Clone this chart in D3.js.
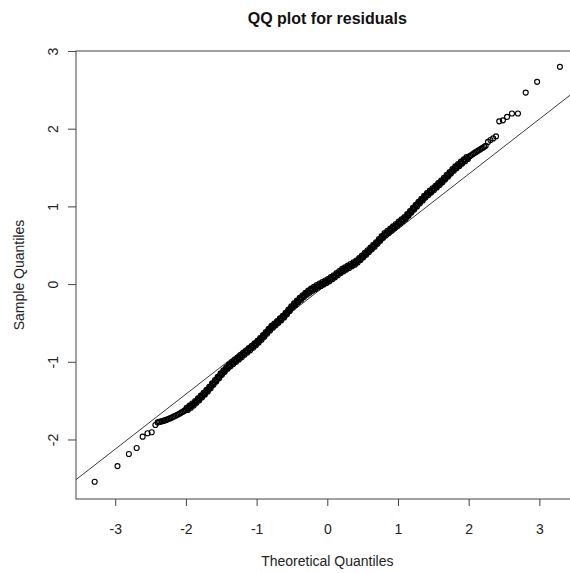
<!DOCTYPE html>
<html lang="en">
	<head>
		<meta charset="utf-8">
		<title>QQ plot for residuals</title>
		<script type="text/javascript" src="https://cdnjs.cloudflare.com/ajax/libs/d3/7.8.5/d3.min.js"></script>
		<style>
			body { margin: 0; background: #fff; }
			svg { display: block; font-family: "Liberation Sans", Arial, sans-serif; }
		</style>
	</head>
	<body>
		<script type="text/javascript">
			// theoretical quantiles (x) and residual quantiles (y)
			var theoretical = [
				-3.291, -2.968, -2.807, -2.697, -2.612, -2.543, -2.484, -2.432,
				-2.40, -2.38, -2.36, -2.34, -2.32, -2.30, -2.28, -2.26, -2.24, -2.22,
				-2.20, -2.18, -2.16, -2.14, -2.12, -2.10, -2.08, -2.06, -2.04, -2.02,
				-2.00, -1.98, -1.96, -1.94, -1.92, -1.90, -1.88, -1.86, -1.84, -1.82,
				-1.80, -1.78, -1.76, -1.74, -1.72, -1.70, -1.68, -1.66, -1.64, -1.62,
				-1.60, -1.58, -1.56, -1.54, -1.52, -1.50, -1.48, -1.46, -1.44, -1.42,
				-1.40, -1.38, -1.36, -1.34, -1.32, -1.30, -1.28, -1.26, -1.24, -1.22,
				-1.20, -1.18, -1.16, -1.14, -1.12, -1.10, -1.08, -1.06, -1.04, -1.02,
				-1.00, -0.98, -0.96, -0.94, -0.92, -0.90, -0.88, -0.86, -0.84, -0.82,
				-0.80, -0.78, -0.76, -0.74, -0.72, -0.70, -0.68, -0.66, -0.64, -0.62,
				-0.60, -0.58, -0.56, -0.54, -0.52, -0.50, -0.48, -0.46, -0.44, -0.42,
				-0.40, -0.38, -0.36, -0.34, -0.32, -0.30, -0.28, -0.26, -0.24, -0.22,
				-0.20, -0.18, -0.16, -0.14, -0.12, -0.10, -0.08, -0.06, -0.04, -0.02,
				0.00, 0.02, 0.04, 0.06, 0.08, 0.10, 0.12, 0.14, 0.16, 0.18,
				0.20, 0.22, 0.24, 0.26, 0.28, 0.30, 0.32, 0.34, 0.36, 0.38,
				0.40, 0.42, 0.44, 0.46, 0.48, 0.50, 0.52, 0.54, 0.56, 0.58,
				0.60, 0.62, 0.64, 0.66, 0.68, 0.70, 0.72, 0.74, 0.76, 0.78,
				0.80, 0.82, 0.84, 0.86, 0.88, 0.90, 0.92, 0.94, 0.96, 0.98,
				1.00, 1.02, 1.04, 1.06, 1.08, 1.10, 1.12, 1.14, 1.16, 1.18,
				1.20, 1.22, 1.24, 1.26, 1.28, 1.30, 1.32, 1.34, 1.36, 1.38,
				1.40, 1.42, 1.44, 1.46, 1.48, 1.50, 1.52, 1.54, 1.56, 1.58,
				1.60, 1.62, 1.64, 1.66, 1.68, 1.70, 1.72, 1.74, 1.76, 1.78,
				1.80, 1.82, 1.84, 1.86, 1.88, 1.90, 1.92, 1.94, 1.96, 1.98,
				2.00, 2.02, 2.04, 2.06, 2.08, 2.10, 2.12, 2.14, 2.16, 2.18,
				2.20, 2.22, 2.24,
				2.273, 2.308, 2.346, 2.387, 2.432, 2.484, 2.543, 2.612, 2.697, 2.807, 2.968, 3.291
			];
			var sample = [
				-2.544, -2.342, -2.187, -2.110, -1.964, -1.920, -1.907, -1.813,
				-1.780, -1.774, -1.771, -1.765, -1.761, -1.755, -1.748, -1.741, -1.733, -1.726,
				-1.718, -1.709, -1.700, -1.691, -1.682, -1.673, -1.662, -1.651, -1.640, -1.629,
				-1.618, -1.604, -1.591, -1.577, -1.564, -1.550, -1.533, -1.516, -1.499, -1.482,
				-1.465, -1.446, -1.428, -1.409, -1.391, -1.372, -1.351, -1.330, -1.308, -1.287,
				-1.266, -1.244, -1.223, -1.201, -1.180, -1.158, -1.138, -1.119, -1.099, -1.080,
				-1.060, -1.046, -1.031, -1.017, -1.002, -0.988, -0.973, -0.958, -0.942, -0.927,
				-0.912, -0.897, -0.882, -0.867, -0.852, -0.837, -0.822, -0.806, -0.791, -0.775,
				-0.760, -0.742, -0.723, -0.705, -0.686, -0.668, -0.647, -0.627, -0.606, -0.586,
				-0.565, -0.550, -0.534, -0.519, -0.503, -0.488, -0.470, -0.453, -0.435, -0.418,
				-0.400, -0.379, -0.358, -0.337, -0.316, -0.295, -0.277, -0.259, -0.241, -0.223,
				-0.205, -0.188, -0.172, -0.155, -0.139, -0.122, -0.110, -0.097, -0.085, -0.072,
				-0.060, -0.050, -0.039, -0.029, -0.018, -0.008, 0.002, 0.011, 0.021, 0.030,
				0.040, 0.052, 0.064, 0.076, 0.088, 0.100, 0.114, 0.128, 0.142, 0.156,
				0.170, 0.180, 0.191, 0.201, 0.212, 0.222, 0.233, 0.243, 0.254, 0.264,
				0.275, 0.291, 0.307, 0.323, 0.339, 0.355, 0.372, 0.389, 0.406, 0.423,
				0.440, 0.458, 0.475, 0.493, 0.510, 0.528, 0.548, 0.568, 0.588, 0.608,
				0.628, 0.642, 0.657, 0.671, 0.686, 0.700, 0.715, 0.730, 0.745, 0.760,
				0.775, 0.790, 0.805, 0.820, 0.835, 0.850, 0.870, 0.890, 0.910, 0.930,
				0.950, 0.970, 0.990, 1.010, 1.030, 1.050, 1.068, 1.087, 1.105, 1.124,
				1.142, 1.158, 1.174, 1.190, 1.206, 1.222, 1.238, 1.254, 1.271, 1.287,
				1.303, 1.321, 1.340, 1.358, 1.377, 1.395, 1.414, 1.432, 1.451, 1.469,
				1.488, 1.503, 1.518, 1.533, 1.548, 1.563, 1.578, 1.593, 1.608, 1.623,
				1.638, 1.650, 1.662, 1.674, 1.686, 1.698, 1.709, 1.721, 1.732, 1.744,
				1.755, 1.768, 1.780,
				1.830, 1.855, 1.875, 1.902, 2.095, 2.108, 2.152, 2.195, 2.195, 2.465, 2.603, 2.796
			];

			// the dense middle of the band: more points, spread across its width
			var theoreticalMid = [
				-1.99, -1.97, -1.95, -1.93, -1.91, -1.89, -1.87, -1.85, -1.83, -1.81,
				-1.79, -1.77, -1.75, -1.73, -1.71, -1.69, -1.67, -1.65, -1.63, -1.61,
				-1.59, -1.57, -1.55, -1.53, -1.51, -1.49, -1.47, -1.45, -1.43, -1.41,
				-1.39, -1.37, -1.35, -1.33, -1.31, -1.29, -1.27, -1.25, -1.23, -1.21,
				-1.19, -1.17, -1.15, -1.13, -1.11, -1.09, -1.07, -1.05, -1.03, -1.01,
				-0.99, -0.97, -0.95, -0.93, -0.91, -0.89, -0.87, -0.85, -0.83, -0.81,
				-0.79, -0.77, -0.75, -0.73, -0.71, -0.69, -0.67, -0.65, -0.63, -0.61,
				-0.59, -0.57, -0.55, -0.53, -0.51, -0.49, -0.47, -0.45, -0.43, -0.41,
				-0.39, -0.37, -0.35, -0.33, -0.31, -0.29, -0.27, -0.25, -0.23, -0.21,
				-0.19, -0.17, -0.15, -0.13, -0.11, -0.09, -0.07, -0.05, -0.03, -0.01,
				0.01, 0.03, 0.05, 0.07, 0.09, 0.11, 0.13, 0.15, 0.17, 0.19,
				0.21, 0.23, 0.25, 0.27, 0.29, 0.31, 0.33, 0.35, 0.37, 0.39,
				0.41, 0.43, 0.45, 0.47, 0.49, 0.51, 0.53, 0.55, 0.57, 0.59,
				0.61, 0.63, 0.65, 0.67, 0.69, 0.71, 0.73, 0.75, 0.77, 0.79,
				0.81, 0.83, 0.85, 0.87, 0.89, 0.91, 0.93, 0.95, 0.97, 0.99,
				1.01, 1.03, 1.05, 1.07, 1.09, 1.11, 1.13, 1.15, 1.17, 1.19,
				1.21, 1.23, 1.25, 1.27, 1.29, 1.31, 1.33, 1.35, 1.37, 1.39,
				1.41, 1.43, 1.45, 1.47, 1.49, 1.51, 1.53, 1.55, 1.57, 1.59,
				1.61, 1.63, 1.65, 1.67, 1.69, 1.71, 1.73, 1.75, 1.77, 1.79,
				1.81, 1.83, 1.85, 1.87, 1.89, 1.91, 1.93, 1.95, 1.97, 1.99
			];
			var sampleMid = [
				-1.591, -1.618, -1.564, -1.591, -1.537, -1.562, -1.505, -1.528, -1.471, -1.494,
				-1.436, -1.457, -1.399, -1.420, -1.362, -1.382, -1.321, -1.339, -1.278, -1.297,
				-1.235, -1.254, -1.192, -1.211, -1.149, -1.168, -1.109, -1.129, -1.070, -1.090,
				-1.033, -1.059, -1.004, -1.030, -0.975, -1.001, -0.946, -0.970, -0.915, -0.940,
				-0.885, -0.910, -0.855, -0.880, -0.825, -0.850, -0.794, -0.819, -0.763, -0.788,
				-0.731, -0.753, -0.694, -0.716, -0.657, -0.678, -0.617, -0.637, -0.576, -0.596,
				-0.538, -0.562, -0.507, -0.531, -0.476, -0.499, -0.442, -0.464, -0.407, -0.429,
				-0.370, -0.389, -0.328, -0.347, -0.286, -0.306, -0.248, -0.270, -0.212, -0.234,
				-0.177, -0.200, -0.144, -0.167, -0.111, -0.136, -0.084, -0.111, -0.059, -0.086,
				-0.035, -0.065, -0.014, -0.044, 0.007, -0.023, 0.027, -0.004, 0.046, 0.015,
				0.066, 0.038, 0.090, 0.062, 0.114, 0.087, 0.141, 0.115, 0.169, 0.143,
				0.195, 0.166, 0.216, 0.187, 0.237, 0.208, 0.258, 0.229, 0.279, 0.250,
				0.303, 0.279, 0.335, 0.311, 0.367, 0.344, 0.401, 0.378, 0.435, 0.412,
				0.469, 0.447, 0.504, 0.482, 0.539, 0.518, 0.578, 0.558, 0.618, 0.598,
				0.655, 0.630, 0.684, 0.659, 0.713, 0.688, 0.743, 0.718, 0.773, 0.748,
				0.803, 0.778, 0.833, 0.808, 0.863, 0.840, 0.900, 0.880, 0.940, 0.920,
				0.980, 0.960, 1.020, 1.000, 1.060, 1.039, 1.098, 1.076, 1.135, 1.113,
				1.170, 1.146, 1.202, 1.178, 1.234, 1.210, 1.266, 1.243, 1.299, 1.275,
				1.332, 1.311, 1.369, 1.348, 1.406, 1.385, 1.443, 1.422, 1.480, 1.459,
				1.516, 1.491, 1.546, 1.521, 1.576, 1.551, 1.606, 1.581, 1.636, 1.611
			];

			// qqline
			var lineIntercept = 0.0;
			var lineSlope = 0.708;

			var xTicks = [-3, -2, -1, 0, 1, 2, 3];
			var yTicks = [-2, -1, 0, 1, 2, 3];

			var w = 570;
			var h = 573;
			var boxLeft = 76, boxTop = 51, boxRight = 578.6, boxBottom = 499;

			var svg = d3.select("body")
					.append("svg")
					.attr("width", w)
					.attr("height", h);

			var xScale = d3.scaleLinear().domain([-3.555, 3.555]).range([boxLeft, boxRight]);
			var yScale = d3.scaleLinear().domain([-2.766, 3.0]).range([boxBottom, boxTop]);

			svg.append("defs").append("clipPath")
				.attr("id", "plotclip")
				.append("rect")
				.attr("x", boxLeft).attr("y", boxTop)
				.attr("width", boxRight - boxLeft).attr("height", boxBottom - boxTop);

			function minusLabel(d) { return d < 0 ? "-" + Math.abs(d) : d; }

			//x axis
			var xAxis = d3.axisBottom(xScale).tickValues(xTicks).tickSize(7);
			var gx = svg.append("g")
				.attr("transform", "translate(0," + boxBottom + ")")
				.call(xAxis);
			gx.select(".domain").remove();
			gx.selectAll("line").attr("stroke", "#444");
			gx.selectAll("text")
				.attr("y", 30)
				.attr("dy", "0.35em")
				.attr("fill", "#222")
				.style("font-size", "14px")
				.style("font-family", "'Liberation Sans', Arial, sans-serif")
				.text(minusLabel);

			//y axis, labels turned like R does
			var yAxis = d3.axisLeft(yScale).tickValues(yTicks).tickSize(8);
			var gy = svg.append("g")
				.attr("transform", "translate(" + boxLeft + ",0)")
				.call(yAxis);
			gy.select(".domain").remove();
			gy.selectAll("line").attr("stroke", "#444");
			gy.selectAll("text")
				.attr("transform", "rotate(-90)")
				.attr("x", 0)
				.attr("y", -22.5)
				.attr("dy", "0.35em")
				.attr("text-anchor", "middle")
				.attr("fill", "#222")
				.style("font-size", "14px")
				.style("font-family", "'Liberation Sans', Arial, sans-serif")
				.text(minusLabel);

			//plot box
			svg.append("rect")
				.attr("x", boxLeft).attr("y", boxTop)
				.attr("width", boxRight - boxLeft).attr("height", boxBottom - boxTop)
				.attr("fill", "none")
				.attr("stroke", "#444")
				.attr("stroke-width", 1);

			var plot = svg.append("g").attr("clip-path", "url(#plotclip)");

			//reference line
			var xd = xScale.domain();
			plot.append("line")
				.attr("x1", xScale(xd[0]))
				.attr("y1", yScale(lineIntercept + lineSlope * xd[0]))
				.attr("x2", xScale(xd[1]))
				.attr("y2", yScale(lineIntercept + lineSlope * xd[1]))
				.attr("stroke", "#222")
				.attr("stroke-width", 0.9);

			//points
			var points = d3.zip(theoretical, sample).concat(d3.zip(theoreticalMid, sampleMid));
			plot.selectAll("circle")
				.data(points)
				.enter()
				.append("circle")
				.attr("cx", function(d) { return xScale(d[0]); })
				.attr("cy", function(d) { return yScale(d[1]); })
				.attr("r", 2.5)
				.attr("fill", "none")
				.attr("stroke", "#000")
				.attr("stroke-width", 1.15);

			//titles
			svg.append("text")
				.attr("x", (boxLeft + boxRight) / 2)
				.attr("y", 24)
				.attr("text-anchor", "middle")
				.attr("fill", "#111")
				.style("font-size", "16px")
				.style("font-weight", "bold")
				.text("QQ plot for residuals");

			svg.append("text")
				.attr("x", (boxLeft + boxRight) / 2)
				.attr("y", 561)
				.attr("dy", "0.35em")
				.attr("text-anchor", "middle")
				.attr("fill", "#222")
				.style("font-size", "14px")
				.text("Theoretical Quantiles");

			svg.append("text")
				.attr("transform", "translate(19," + ((boxTop + boxBottom) / 2) + ") rotate(-90)")
				.attr("dy", "0.35em")
				.attr("text-anchor", "middle")
				.attr("fill", "#222")
				.style("font-size", "14px")
				.text("Sample Quantiles");
		</script>
	</body>
</html>
